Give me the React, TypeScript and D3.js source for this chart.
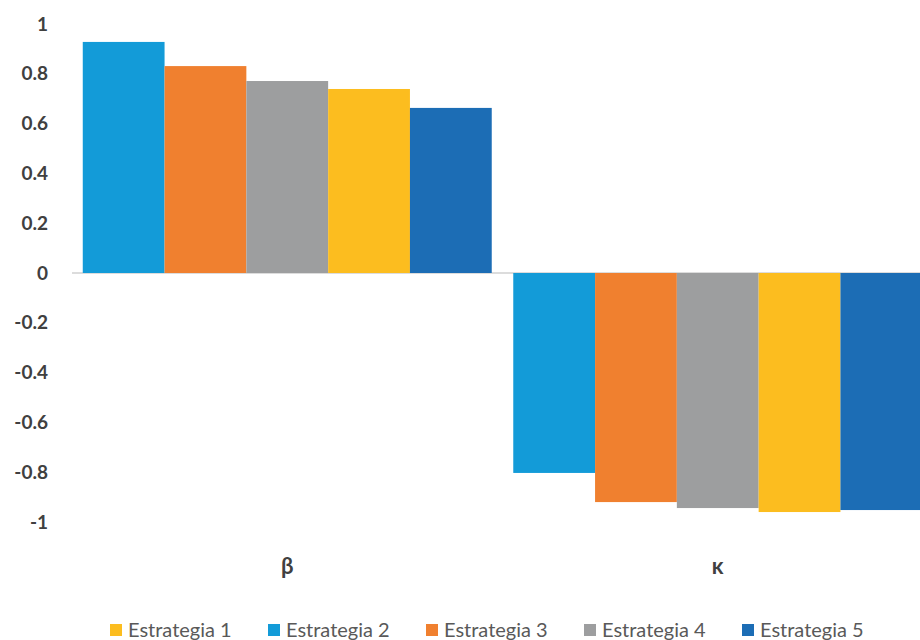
import React, { useRef, useEffect } from "react";
import * as d3 from "d3";

const categories = ["β", "κ"];
// bar order as drawn in the chart
const barSeries = ["Estrategia 2", "Estrategia 3", "Estrategia 4", "Estrategia 1", "Estrategia 5"];
const betaValues = [0.928, 0.831, 0.771, 0.739, 0.663];
const kappaValues = [-0.803, -0.92, -0.944, -0.96, -0.952];
// legend order
const legendSeries = ["Estrategia 1", "Estrategia 2", "Estrategia 3", "Estrategia 4", "Estrategia 5"];
const yTicks = [1, 0.8, 0.6, 0.4, 0.2, 0, -0.2, -0.4, -0.6, -0.8, -1];

const colors: Record<string, string> = {
  "Estrategia 1": "#fcbd1f",
  "Estrategia 2": "#139bd8",
  "Estrategia 3": "#f0802f",
  "Estrategia 4": "#9d9e9f",
  "Estrategia 5": "#1c6db5",
};

const W = 920;
const H = 640;

export default function App() {
  const svgRef = useRef<SVGSVGElement>(null);

  useEffect(() => {
    const svg = d3.select(svgRef.current);
    svg.selectAll("*").remove();

    const x = d3.scaleBand().domain(categories).range([72, 933]).paddingInner(0.05).paddingOuter(0.025);
    const xInner = d3.scaleBand().domain(barSeries).range([0, x.bandwidth()]);
    const y = d3.scaleLinear().domain([-1, 1]).range([522, 24]);

    const font = "Lato, 'Open Sans', sans-serif";

    // y labels
    svg
      .append("g")
      .selectAll("text")
      .data(yTicks)
      .join("text")
      .attr("x", 48)
      .attr("y", (d) => y(d))
      .attr("dy", "0.35em")
      .attr("text-anchor", "end")
      .attr("font-family", font)
      .attr("font-weight", "bold")
      .attr("font-size", 19)
      .attr("fill", "#404040")
      .text((d) => String(d));

    // zero line
    svg
      .append("line")
      .attr("x1", 72)
      .attr("x2", W)
      .attr("y1", y(0))
      .attr("y2", y(0))
      .attr("stroke", "#d0d0d0")
      .attr("stroke-width", 1.5);

    const rows = [betaValues, kappaValues];
    categories.forEach((cat, ci) => {
      const g = svg.append("g").attr("transform", `translate(${x(cat)},0)`);
      g.selectAll("rect")
        .data(barSeries.map((s, i) => ({ s, v: rows[ci][i] })))
        .join("rect")
        .attr("x", (d) => xInner(d.s)!)
        .attr("width", xInner.bandwidth())
        .attr("y", (d) => y(Math.max(0, d.v)))
        .attr("height", (d) => Math.abs(y(d.v) - y(0)))
        .attr("fill", (d) => colors[d.s]);
    });

    // category labels
    svg
      .append("g")
      .selectAll("text")
      .data(categories)
      .join("text")
      .attr("x", (d) => x(d)! + x.bandwidth() / 2)
      .attr("y", 566)
      .attr("dy", "0.35em")
      .attr("text-anchor", "middle")
      .attr("font-family", font)
      .attr("font-weight", "bold")
      .attr("font-size", 22)
      .attr("fill", "#404040")
      .text((d) => d);

    // legend
    const lg = svg
      .append("g")
      .selectAll("g")
      .data(legendSeries)
      .join("g")
      .attr("transform", (d, i) => `translate(${110 + i * 158},630)`);
    lg.append("rect")
      .attr("x", 0)
      .attr("y", -6)
      .attr("width", 12)
      .attr("height", 12)
      .attr("fill", (d) => colors[d]);
    lg.append("text")
      .attr("x", 18)
      .attr("y", 0)
      .attr("dy", "0.35em")
      .attr("font-family", font)
      .attr("font-size", 20)
      .attr("fill", "#595959")
      .text((d) => d);
  }, []);

  return (
    <svg
      ref={svgRef}
      width={W}
      height={H}
      style={{ position: "absolute", left: 0, top: 0, background: "#fff" }}
    />
  );
}
